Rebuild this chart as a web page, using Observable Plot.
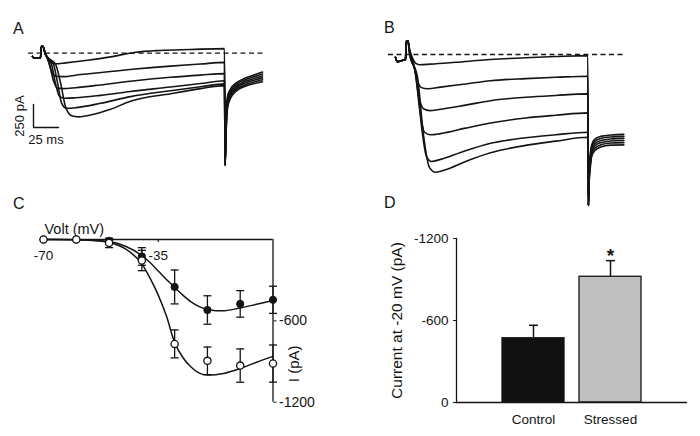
<!DOCTYPE html>
<html><head><meta charset="utf-8">
<script src="https://cdn.jsdelivr.net/npm/d3@7"></script>
<script src="https://cdn.jsdelivr.net/npm/@observablehq/plot@0.6"></script>
<style>
body{margin:0;background:#fff;}
#fig{position:relative;width:700px;height:436px;overflow:hidden;background:#fff;font-family:"Liberation Sans",Arial,sans-serif;}
#fig svg{position:absolute;left:0;top:0;overflow:visible;background:transparent;}
.lbl{position:absolute;font-size:16px;line-height:16px;color:#141414;}
</style></head><body><div id="fig"></div>
<script>
// ---------------- DATA ----------------
// Panel A (control) current traces: [time ms, current pA]
const preA = [[-8,-35],[-6,-55],[0,-55],[0.8,75],[2.4,75]];
const tracesA = [
  [[4,20],[8,-60],[11,-105],[15,-115],[25,-105],[45,-80],[70,-40],[95,10],[120,30],[150,40],[184,50]],
  [[4,20],[8,-90],[11,-200],[15,-250],[22,-255],[40,-232],[65,-205],[92,-175],[130,-140],[160,-118],[184,-100]],
  [[4.5,10],[9,-120],[13,-300],[17,-380],[22,-385],[35,-375],[60,-345],[90,-305],[130,-262],[160,-238],[184,-222]],
  [[4.5,0],[11,-120],[15,-330],[19,-470],[24,-490],[35,-485],[60,-458],[90,-416],[130,-368],[160,-330],[184,-300]],
  [[5,-10],[13,-120],[17,-320],[21,-540],[26,-600],[36,-592],[60,-545],[90,-472],[130,-408],[160,-365],[184,-333]],
  [[5,-20],[15,-120],[20,-320],[25,-580],[31,-680],[38,-692],[50,-672],[70,-610],[90,-522],[130,-440],[160,-385],[184,-352]]
];
const tailsA = [
  [[184.6,-1220],[185.5,-750],[187,-470],[190,-390],[196,-320],[205,-270],[214,-235],[222,-205]],
  [[184.6,-1220],[185.5,-780],[187,-496],[190,-410],[196,-338],[205,-288],[214,-254],[222,-226]],
  [[184.6,-1220],[185.5,-810],[187,-522],[190,-430],[196,-356],[205,-306],[214,-273],[222,-247]],
  [[184.6,-1220],[185.5,-840],[187,-548],[190,-450],[196,-374],[205,-324],[214,-292],[222,-268]],
  [[184.6,-1220],[185.5,-870],[187,-574],[190,-470],[196,-392],[205,-342],[214,-311],[222,-289]],
  [[184.6,-1220],[185.5,-900],[187,-600],[190,-490],[196,-410],[205,-360],[214,-330],[222,-310]]
];
const baselineA = [-12, 223];           // dashed zero-current line extent (ms)
const scaleBar = {t: -7, i: -808, dt: 25, dI: 250};

// Panel B (stressed) current traces
const preB = [[-10,-30],[-8,-80],[-5,-70],[0,-55],[0.8,150],[2.4,150]];
const tracesB = [
  [[4,60],[7,-40],[10,-95],[14,-112],[25,-105],[50,-85],[85,-55],[120,-35],[150,-22],[182,-12]],
  [[4,50],[8,-100],[12,-290],[16,-360],[22,-373],[35,-355],[60,-320],[85,-285],[120,-262],[150,-248],[182,-236]],
  [[4,40],[9,-150],[13,-440],[18,-590],[24,-610],[35,-595],[60,-550],[85,-502],[120,-465],[150,-445],[182,-428]],
  [[4,30],[10,-200],[14,-580],[19,-845],[25,-873],[35,-860],[60,-800],[85,-745],[120,-690],[150,-660],[182,-634]],
  [[4,20],[11,-250],[16,-780],[21,-1110],[26,-1163],[35,-1140],[55,-1065],[85,-965],[120,-905],[150,-872],[182,-845]],
  [[4,10],[12,-250],[18,-880],[24,-1230],[30,-1280],[40,-1252],[60,-1162],[85,-1068],[120,-988],[150,-942],[182,-900]]
];
const tailsB = [
  [[182.6,-1641],[183.3,-1300],[184.5,-1080],[186,-980],[189,-920],[195,-890],[205,-875],[218,-868]],
  [[182.6,-1641],[183.3,-1320],[184.5,-1110],[186,-1005],[189,-945],[195,-912],[205,-896],[218,-890]],
  [[182.6,-1641],[183.3,-1340],[184.5,-1140],[186,-1030],[189,-970],[195,-935],[205,-918],[218,-912]],
  [[182.6,-1641],[183.3,-1360],[184.5,-1170],[186,-1055],[189,-995],[195,-958],[205,-940],[218,-935]],
  [[182.6,-1641],[183.3,-1380],[184.5,-1200],[186,-1080],[189,-1020],[195,-982],[205,-962],[218,-958]],
  [[182.6,-1641],[183.3,-1400],[184.5,-1230],[186,-1105],[189,-1045],[195,-1005],[205,-985],[218,-982]]
];
const baselineB = [-17, 218];

// Panel C: I-V relationship
const voltages   = [-70, -60, -50, -40, -30, -20, -10, 0];
const controlI   = [0, 0, -10, -125, -350, -520, -475, -445];
const controlErr = [0, 0, 15, 65, 125, 105, 98, 100];
const stressedI  = [0, 0, -25, -155, -770, -895, -930, -915];
const stressedErr= [0, 0, 35, 75, 103, 102, 123, 137];
const fitV        = [-70,-60,-55,-50,-45,-40,-37.5,-35,-32.5,-30,-27.5,-25,-22.5,-20,-17.5,-15,-10,-5,0];
const fitControl  = [0,-2,-6,-15,-50,-118,-170,-232,-295,-352,-410,-460,-495,-515,-525,-525,-505,-478,-450];
const fitStressed = [0,-2,-8,-22,-70,-180,-285,-410,-565,-760,-870,-940,-985,-1000,-998,-988,-952,-905,-862];
const xTicksC = [-70, -35];
const yTicksC = [-600, -1200];

// Panel D: current at -20 mV
const groupsD  = ["Control", "Stressed"];
const currentD = [-470, -920];
const semD     = [95, 118];
const sigD     = [false, true];
const yTicksD  = [0, -600, -1200];

// ---------------- DRAW ----------------
const INK = "#141414";
const FONT = "Liberation Sans, Arial, sans-serif";
const baseStyle = {background: "transparent", overflow: "visible", fontFamily: FONT, color: INK, position: "absolute", left: "0px", top: "0px"};
const capSymbol = {draw(ctx, size) { const r = Math.sqrt(size / Math.PI); ctx.moveTo(-r, 0); ctx.lineTo(r, 0); }};
const fig = document.getElementById("fig");

function traceRows(pre, traces, tails) {
  return traces.flatMap((tr, k) => [...pre, ...tr, ...tails[k]].map(([t, i]) => ({t, i, id: k})));
}

// Panel A
const rowsA = traceRows(preA, tracesA, tailsA);
const sb = [scaleBar];
fig.append(Plot.plot({
  width: 700, height: 436, style: baseStyle,
  x: {domain: [0, 184], range: [40, 224], axis: null},
  y: {domain: [0, -1000], range: [52.7, 144.7], axis: null},
  marks: [
    Plot.ruleY([0], {x1: () => baselineA[0], x2: () => baselineA[1], stroke: INK, strokeWidth: 1.3, strokeDasharray: "5,3.5"}),
    Plot.line(rowsA, {x: "t", y: "i", z: "id", curve: "monotone-x", stroke: INK, strokeWidth: 1.6}),
    Plot.line([[scaleBar.t, scaleBar.i + scaleBar.dI], [scaleBar.t, scaleBar.i], [scaleBar.t + scaleBar.dt, scaleBar.i]],
      {x: d => d[0], y: d => d[1], stroke: INK, strokeWidth: 1.4}),
    Plot.text(sb, {x: d => d.t, y: d => d.i + d.dI / 2, text: d => `${d.dI} pA`, rotate: -90, dx: -14, fontSize: 13, fill: INK}),
    Plot.text(sb, {x: d => d.t + d.dt / 2, y: d => d.i, text: d => `${d.dt} ms`, dy: 12, fontSize: 13, fill: INK})
  ]
}));

// Panel D (drawn before B so B's tail overlays it)
const rowsD = groupsD.map((g, k) => ({g, v: currentD[k], e: semD[k], sig: sigD[k]}));
fig.append(Plot.plot({
  width: 700, height: 436, style: baseStyle,
  marginLeft: 456, marginRight: 13, marginTop: 238, marginBottom: 34,
  x: {domain: groupsD, paddingInner: 0.195, paddingOuter: 0.5975},
  y: {domain: [0, -1200]},
  color: {domain: groupsD, range: ["#111111", "#c0c0c0"]},
  marks: [
    Plot.ruleX(rowsD, {x: "g", y1: "v", y2: d => d.v - d.e, stroke: INK, strokeWidth: 1.5}),
    Plot.barY(rowsD, {x: "g", y: "v", fill: "g", stroke: INK, strokeWidth: 1.3}),
    Plot.dot(rowsD, {x: "g", y: d => d.v - d.e, symbol: capSymbol, r: 4.5, fill: "none", stroke: INK, strokeWidth: 1.5}),
    Plot.text(rowsD.filter(d => d.sig), {x: "g", y: d => d.v - d.e, text: () => "*", dy: 1, lineAnchor: "bottom", fontSize: 19, fontWeight: "bold", fill: INK}),
    Plot.ruleY([0], {stroke: INK, strokeWidth: 1.3}),
    Plot.frame({anchor: "left", stroke: INK, strokeWidth: 1.3}),
    Plot.axisY({ticks: yTicksD, tickSize: 3, tickPadding: 5, tickFormat: d => String(d), fontSize: 13.5, label: null}),
    Plot.axisX({tickSize: 0, tickPadding: 12, fontSize: 13.5, label: null}),
    Plot.text(["Current at -20 mV (pA)"], {frameAnchor: "left", textAnchor: "middle", lineAnchor: "middle", rotate: -90, dx: -59, fontSize: 15.5, fill: INK})
  ]
}));

// Panel B
const rowsB = traceRows(preB, tracesB, tailsB);
fig.append(Plot.plot({
  width: 700, height: 436, style: baseStyle,
  x: {domain: [0, 182], range: [405, 587.3], axis: null},
  y: {domain: [0, -1000], range: [54, 146], axis: null},
  marks: [
    Plot.ruleY([0], {x1: () => baselineB[0], x2: () => baselineB[1], stroke: INK, strokeWidth: 1.3, strokeDasharray: "5,3.5"}),
    Plot.line(rowsB, {x: "t", y: "i", z: "id", curve: "monotone-x", stroke: INK, strokeWidth: 1.6})
  ]
}));

// Panel C
const rowsC = voltages.flatMap((v, k) => [
  {s: "Control", v, i: controlI[k], e: controlErr[k]},
  {s: "Stressed", v, i: stressedI[k], e: stressedErr[k]}
]);
const capsC = rowsC.filter(d => d.e > 0).flatMap(d => [{v: d.v, y: d.i - d.e}, {v: d.v, y: d.i + d.e}]);
const fitsC = fitV.flatMap((v, k) => [{s: "Control", v, i: fitControl[k]}, {s: "Stressed", v, i: fitStressed[k]}]);
fig.append(Plot.plot({
  width: 700, height: 436, style: baseStyle,
  marginLeft: 43, marginRight: 427.5, marginTop: 239, marginBottom: 34.3,
  x: {domain: [-70, 0], axis: null},
  y: {domain: [-1200, 0]},
  marks: [
    Plot.ruleY([0], {x1: -70, x2: 0, stroke: INK, strokeWidth: 1.3}),
    Plot.ruleX([0], {y1: 0, y2: -1200, stroke: INK, strokeWidth: 1.3}),
    Plot.ruleX(xTicksC, {x: d => d, y1: 0, y2: -22, stroke: INK, strokeWidth: 1.2}),
    Plot.text(xTicksC, {x: d => d, y: () => 0, dy: 16, text: d => String(d), fontSize: 13.5, fill: INK}),
    Plot.axisY({anchor: "right", ticks: yTicksC, tickSize: 3, tickPadding: 3, tickFormat: d => String(d), fontSize: 14, label: null}),
    Plot.text(["Volt (mV)"], {frameAnchor: "top-left", textAnchor: "start", lineAnchor: "middle", dx: 1, dy: -10, fontSize: 14.5, fill: INK}),
    Plot.text(["I (pA)"], {frameAnchor: "right", textAnchor: "middle", lineAnchor: "middle", rotate: -90, dx: 21, dy: 43, fontSize: 15, fill: INK}),
    Plot.ruleX(rowsC.filter(d => d.e > 0), {x: "v", y1: d => d.i - d.e, y2: d => d.i + d.e, stroke: INK, strokeWidth: 1.3}),
    Plot.dot(capsC, {x: "v", y: "y", symbol: capSymbol, r: 4, fill: "none", stroke: INK, strokeWidth: 1.3}),
    Plot.line(fitsC, {x: "v", y: "i", z: "s", curve: "monotone-x", stroke: INK, strokeWidth: 1.5}),
    Plot.dot(rowsC.filter(d => d.s === "Control"), {x: "v", y: "i", r: 3.6, fill: INK, stroke: INK, strokeWidth: 1}),
    Plot.dot(rowsC.filter(d => d.s === "Stressed"), {x: "v", y: "i", r: 3.6, fill: "white", stroke: INK, strokeWidth: 1.3})
  ]
}));

// Panel letters
[["A", 13, 21], ["B", 384, 20], ["C", 13, 196], ["D", 384, 195]].forEach(([t, l, tp]) => {
  const d = document.createElement("div");
  d.className = "lbl"; d.textContent = t; d.style.left = l + "px"; d.style.top = tp + "px";
  fig.append(d);
});
</script></body></html>
